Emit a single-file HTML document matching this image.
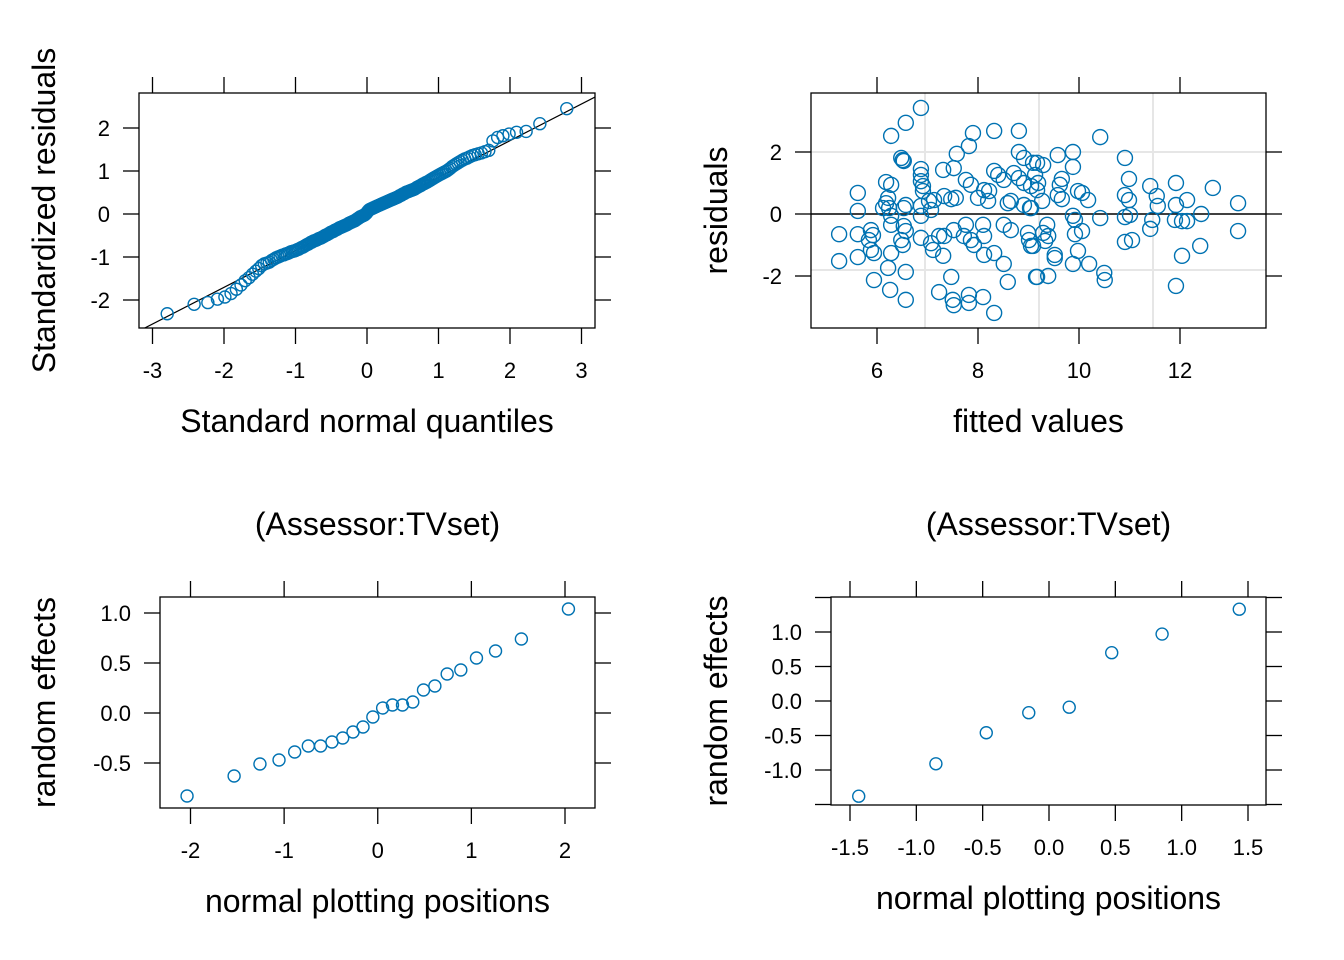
<!DOCTYPE html>
<html><head><meta charset="utf-8"><style>
html,body{margin:0;padding:0;background:#fff;}
svg{display:block;font-family:"Liberation Sans",Arial,sans-serif;}
</style></head><body>
<svg id="chart" width="1344" height="960" viewBox="0 0 1344 960" xmlns="http://www.w3.org/2000/svg"></svg>
<script>
// ---- Panel 1: QQ of standardized residuals (sorted) ----
const qqResiduals = [
-2.32,-2.1,-2.06,-1.98,-1.93,-1.85,-1.75,-1.65,-1.55,-1.48,-1.4,-1.33,-1.27,-1.2,-1.16,-1.14,
-1.12,-1.08,-1.05,-1.02,-1.0,-0.98,-0.96,-0.95,-0.93,-0.92,-0.9,-0.88,-0.87,-0.86,-0.85,-0.83,
-0.82,-0.8,-0.78,-0.77,-0.75,-0.73,-0.71,-0.7,-0.68,-0.66,-0.65,-0.63,-0.62,-0.61,-0.6,-0.58,
-0.57,-0.56,-0.55,-0.53,-0.52,-0.5,-0.49,-0.48,-0.46,-0.45,-0.43,-0.42,-0.41,-0.4,-0.38,-0.37,
-0.36,-0.35,-0.33,-0.32,-0.31,-0.3,-0.29,-0.28,-0.27,-0.26,-0.25,-0.24,-0.22,-0.21,-0.2,-0.19,
-0.18,-0.17,-0.16,-0.15,-0.13,-0.12,-0.1,-0.09,-0.07,-0.06,-0.05,-0.04,-0.03,-0.02,0.0,0.02,
0.05,0.08,0.1,0.11,0.12,0.13,0.14,0.15,0.16,0.17,0.18,0.19,0.2,0.21,0.22,0.23,
0.24,0.25,0.26,0.27,0.28,0.29,0.3,0.31,0.32,0.33,0.34,0.35,0.36,0.37,0.38,0.39,
0.4,0.42,0.43,0.44,0.46,0.47,0.48,0.5,0.51,0.52,0.53,0.54,0.55,0.56,0.57,0.58,
0.6,0.62,0.63,0.65,0.66,0.68,0.7,0.71,0.73,0.74,0.76,0.78,0.8,0.82,0.84,0.86,
0.88,0.9,0.92,0.94,0.96,0.98,1.0,1.03,1.06,1.1,1.13,1.16,1.19,1.22,1.25,1.28,
1.3,1.33,1.36,1.38,1.4,1.42,1.45,1.48,1.7,1.78,1.82,1.86,1.9,1.92,2.1,2.45];
const qqTicksX = [-3,-2,-1,0,1,2,3];
const qqTicksY = [-2,-1,0,1,2];
const qqLineSlope = 0.853;

// ---- Panel 2: residuals vs fitted ----
const fittedValues = [6.87,6.57,6.28,7.90,8.32,8.81,7.82,7.58,8.81,8.91,6.48,6.53,6.51,6.87,7.31,7.52,8.32,8.40,8.51,9.09,6.87,6.87,6.91,6.91,6.18,6.28,7.76,7.86,8.12,8.22,8.71,8.81,8.91,9.05,5.62,6.22,6.18,6.24,6.57,7.03,7.13,7.33,7.47,7.56,8.00,8.20,8.59,8.65,8.91,9.05,5.62,6.12,6.53,6.87,7.07,6.87,6.28,5.25,5.62,5.88,5.92,5.84,6.28,6.53,6.57,6.48,6.51,6.87,7.07,7.11,7.23,7.33,7.52,7.76,8.10,7.72,7.86,7.92,8.12,8.51,8.65,8.99,9.01,9.05,5.25,5.62,5.88,5.94,6.28,6.22,6.57,7.31,8.12,8.32,8.51,5.94,6.26,6.57,7.23,7.47,7.50,7.52,7.82,7.82,8.10,8.32,8.59,9.15,
10.42,9.58,9.88,10.91,9.88,9.17,9.29,9.13,9.19,9.17,9.66,9.62,10.99,11.41,11.92,12.65,9.58,9.66,9.98,10.06,10.18,10.91,10.99,11.54,11.56,11.92,12.14,13.15,9.27,9.03,9.88,9.92,10.42,10.91,11.01,11.45,11.41,11.90,12.04,12.14,12.42,13.15,9.37,9.29,9.39,9.33,9.09,9.92,10.06,10.91,11.05,12.40,12.04,9.52,9.52,9.98,9.88,10.20,10.50,10.51,9.17,9.39,11.92];
const rawResiduals = [3.42,2.94,2.52,2.61,2.68,2.68,2.19,1.94,2.00,1.81,1.81,1.71,1.74,1.45,1.42,1.48,1.39,1.26,1.10,1.65,1.26,1.06,0.90,0.74,1.03,0.94,1.10,0.94,0.77,0.74,1.32,1.16,1.00,0.90,0.68,0.52,0.35,0.19,0.29,0.42,0.45,0.58,0.48,0.52,0.52,0.42,0.35,0.42,0.29,0.19,0.10,0.19,0.19,0.26,0.13,-0.06,-0.06,-0.65,-0.65,-0.52,-0.68,-0.84,-0.35,-0.39,-0.55,-0.84,-1.00,-0.77,-0.94,-1.16,-0.71,-0.71,-0.52,-0.35,-0.35,-0.71,-0.84,-1.00,-0.71,-0.35,-0.52,-0.61,-0.84,-1.03,-1.52,-1.39,-1.16,-1.26,-1.26,-1.74,-1.87,-1.35,-1.32,-1.26,-1.61,-2.13,-2.45,-2.77,-2.52,-2.03,-2.77,-2.94,-2.61,-2.87,-2.68,-3.19,-2.19,-2.03,
2.48,1.90,2.00,1.81,1.52,1.65,1.58,1.26,1.00,0.77,1.13,0.94,1.13,0.90,1.00,0.84,0.61,0.48,0.74,0.68,0.45,0.61,0.45,0.58,0.26,0.29,0.45,0.35,0.42,0.19,-0.06,-0.19,-0.13,-0.10,-0.03,-0.19,-0.48,-0.19,-0.23,-0.23,0.00,-0.55,-0.35,-0.61,-0.71,-0.87,-1.03,-0.65,-0.55,-0.90,-0.84,-1.03,-1.35,-1.32,-1.42,-1.19,-1.61,-1.61,-1.90,-2.13,-2.03,-2.00,-2.32];
const fitTicksX = [6,8,10,12];
const fitTicksY = [-2,0,2];

// ---- Panel 3: random effects Assessor:TVset ----
const reAT = [-0.83,-0.63,-0.51,-0.47,-0.39,-0.33,-0.33,-0.29,-0.25,-0.19,-0.14,-0.04,0.05,0.08,0.08,0.11,0.23,0.27,0.39,0.43,0.55,0.62,0.74,1.04];
const reATTicksX = [-2,-1,0,1,2];
const reATTicksY = [-0.5,0.0,0.5,1.0];
const reATTickLabels = ["-0.5","0.0","0.5","1.0"];

// ---- Panel 4: random effects Assessor ----
const reA = [-1.38,-0.91,-0.46,-0.17,-0.09,0.70,0.97,1.33];
const reATicksX = [-1.5,-1.0,-0.5,0.0,0.5,1.0,1.5];
const reATickLabelsX = ["-1.5","-1.0","-0.5","0.0","0.5","1.0","1.5"];
const reATicksY = [-1.5,-1.0,-0.5,0.0,0.5,1.0,1.5];
const reATickLabelsY = ["","-1.0","-0.5","0.0","0.5","1.0",""];

const NS="http://www.w3.org/2000/svg";
const svg=document.getElementById('chart');
const BLUE="#0072B2";
const TICKFS=22, TITLEFS=32;
function mk(tag,attrs,parent){const e=document.createElementNS(NS,tag);for(const k in attrs)e.setAttribute(k,attrs[k]);(parent||svg).appendChild(e);return e;}
function txt(s,attrs,parent){const e=mk('text',attrs,parent);e.textContent=s;return e;}
function lin(d0,d1,r0,r1){return v=>r0+(v-d0)*(r1-r0)/(d1-d0);}
function qnorm(p){// Acklam
 const a=[-39.69683028665376,220.9460984245205,-275.9285104469687,138.357751867269,-30.66479806614716,2.506628277459239];
 const b=[-54.47609879822406,161.5858368580409,-155.6989798598866,66.80131188771972,-13.28068155288572];
 const c=[-0.007784894002430293,-0.3223964580411365,-2.400758277161838,-2.549732539343734,4.374664141464968,2.938163982698783];
 const d=[0.007784695709041462,0.3224671290700398,2.445134137142996,3.754408661907416];
 let q,r;
 if(p<0.02425){q=Math.sqrt(-2*Math.log(p));return (((((c[0]*q+c[1])*q+c[2])*q+c[3])*q+c[4])*q+c[5])/((((d[0]*q+d[1])*q+d[2])*q+d[3])*q+1);}
 if(p>1-0.02425){q=Math.sqrt(-2*Math.log(1-p));return -(((((c[0]*q+c[1])*q+c[2])*q+c[3])*q+c[4])*q+c[5])/((((d[0]*q+d[1])*q+d[2])*q+d[3])*q+1);}
 q=p-0.5;r=q*q;return (((((a[0]*r+a[1])*r+a[2])*r+a[3])*r+a[4])*r+a[5])*q/(((((b[0]*r+b[1])*r+b[2])*r+b[3])*r+b[4])*r+1);
}
function ppoints(n){const a=n<=10?3/8:0.5;const o=[];for(let i=1;i<=n;i++)o.push((i-a)/(n+1-2*a));return o;}

function panel(name,box,sx,sy,xt,xl,yt,yl,xtitle,ytitle,ytitleX,title){
 const g=mk('g',{});
 
 
 const [L,T,R,B]=box;
 const tl=16;
 xt.forEach((v,i)=>{const x=sx(v);
  const t1=mk('line',{x1:x,y1:T-tl,x2:x,y2:T,stroke:'#000','stroke-width':1.3},g);
  
  const t2=mk('line',{x1:x,y1:B,x2:x,y2:B+tl,stroke:'#000','stroke-width':1.3},g);
  
  if(xl[i]!==''){const l=txt(xl[i],{x:x,y:B+50,'font-size':TICKFS,'text-anchor':'middle'},g);
  }
 });
 yt.forEach((v,i)=>{const y=sy(v);
  const t1=mk('line',{x1:L-tl,y1:y,x2:L,y2:y,stroke:'#000','stroke-width':1.3},g);
  
  const t2=mk('line',{x1:R,y1:y,x2:R+tl,y2:y,stroke:'#000','stroke-width':1.3},g);
  
  if(yl[i]!==''){const l=txt(yl[i],{x:L-29,y:y+8,'font-size':TICKFS,'text-anchor':'end'},g);
  }
 });
 const xtt=txt(xtitle,{x:(L+R)/2,y:B+104,'font-size':TITLEFS,'text-anchor':'middle'},g);
 
 const cy=(T+B)/2;
 const ytt=txt(ytitle,{x:ytitleX,y:cy,'font-size':TITLEFS,'text-anchor':'middle',transform:`rotate(-90 ${ytitleX} ${cy})`},g);
 
 if(title){const tt=txt(title,{x:(L+R)/2,y:T-62,'font-size':TITLEFS,'text-anchor':'middle'},g);
  }
 return g;
}
function frame(g,box){const [L,T,R,B]=box;
 const f=mk('rect',{x:L,y:T,width:R-L,height:B-T,fill:'none',stroke:'#000','stroke-width':1.3},g);
 }
function pts(g,xs,ys,sx,sy,r,nm){
 xs.forEach((x,i)=>{const c=mk('circle',{cx:sx(x),cy:sy(ys[i]),r:r,fill:'none',stroke:BLUE,'stroke-width':1.4},g);
  
  });
}

// Panel 1
{const box=[139,93,595,328];
 const sx=lin(-3,3,152.5,581.5), sy=lin(-2,2,300,128);
 const g=panel('qq-residuals-panel',box,sx,sy,qqTicksX,qqTicksX.map(String),qqTicksY,qqTicksY.map(String),'Standard normal quantiles','Standardized residuals',55);
 const clip=mk('clipPath',{id:'c1'},g);mk('rect',{x:139,y:93,width:456,height:235},clip);
 const x0=-3.2,x1=3.3;
 const ref=mk('line',{x1:sx(x0),y1:sy(x0*qqLineSlope),x2:sx(x1),y2:sy(x1*qqLineSlope),stroke:'#000','stroke-width':1.2,'clip-path':'url(#c1)'},g);
 
 const qx=ppoints(qqResiduals.length).map(qnorm);
 pts(g,qx,qqResiduals,sx,sy,6,'qq-point');
 frame(g,box);}

// Panel 2
{const box=[811,93,1266,328];
 const sx=lin(6,12,877,1180), sy=lin(-2,2,276,152);
 const g=panel('residuals-vs-fitted-panel',box,sx,sy,fitTicksX,fitTicksX.map(String),fitTicksY,fitTicksY.map(String),'fitted values','residuals',727);
 [925,1039,1153].forEach(x=>{const l=mk('line',{x1:x,y1:93,x2:x,y2:328,stroke:'#e6e6e6','stroke-width':2},g);
  });
 [152,270].forEach(y=>{const l=mk('line',{x1:811,y1:y,x2:1266,y2:y,stroke:'#e6e6e6','stroke-width':2},g);
  });
 const z=mk('line',{x1:811,y1:sy(0),x2:1266,y2:sy(0),stroke:'#000','stroke-width':1.5},g);
 
 pts(g,fittedValues,rawResiduals,sx,sy,7.5,'residual-point');
 frame(g,box);}

// Panel 3
{const box=[160,597,595,808];
 const sx=lin(-2,2,190.5,565), sy=lin(0,1,713,613);
 const g=panel('random-effects-assessor-tvset-panel',box,sx,sy,reATTicksX,reATTicksX.map(String),reATTicksY,reATTickLabels,'normal plotting positions','random effects',55,'(Assessor:TVset)');
 pts(g,ppoints(reAT.length).map(qnorm),reAT,sx,sy,6,'random-effect-point');
 frame(g,box);}

// Panel 4
{const box=[831,597,1266,805];
 const sx=lin(-1.5,1.5,850,1248), sy=lin(-1,1,770,632);
 const g=panel('random-effects-assessor-panel',box,sx,sy,reATicksX,reATickLabelsX,reATicksY,reATickLabelsY,'normal plotting positions','random effects',727,'(Assessor:TVset)');
 pts(g,ppoints(reA.length).map(qnorm),reA,sx,sy,6,'random-effect-point');
 frame(g,box);}
</script>
</body></html>
